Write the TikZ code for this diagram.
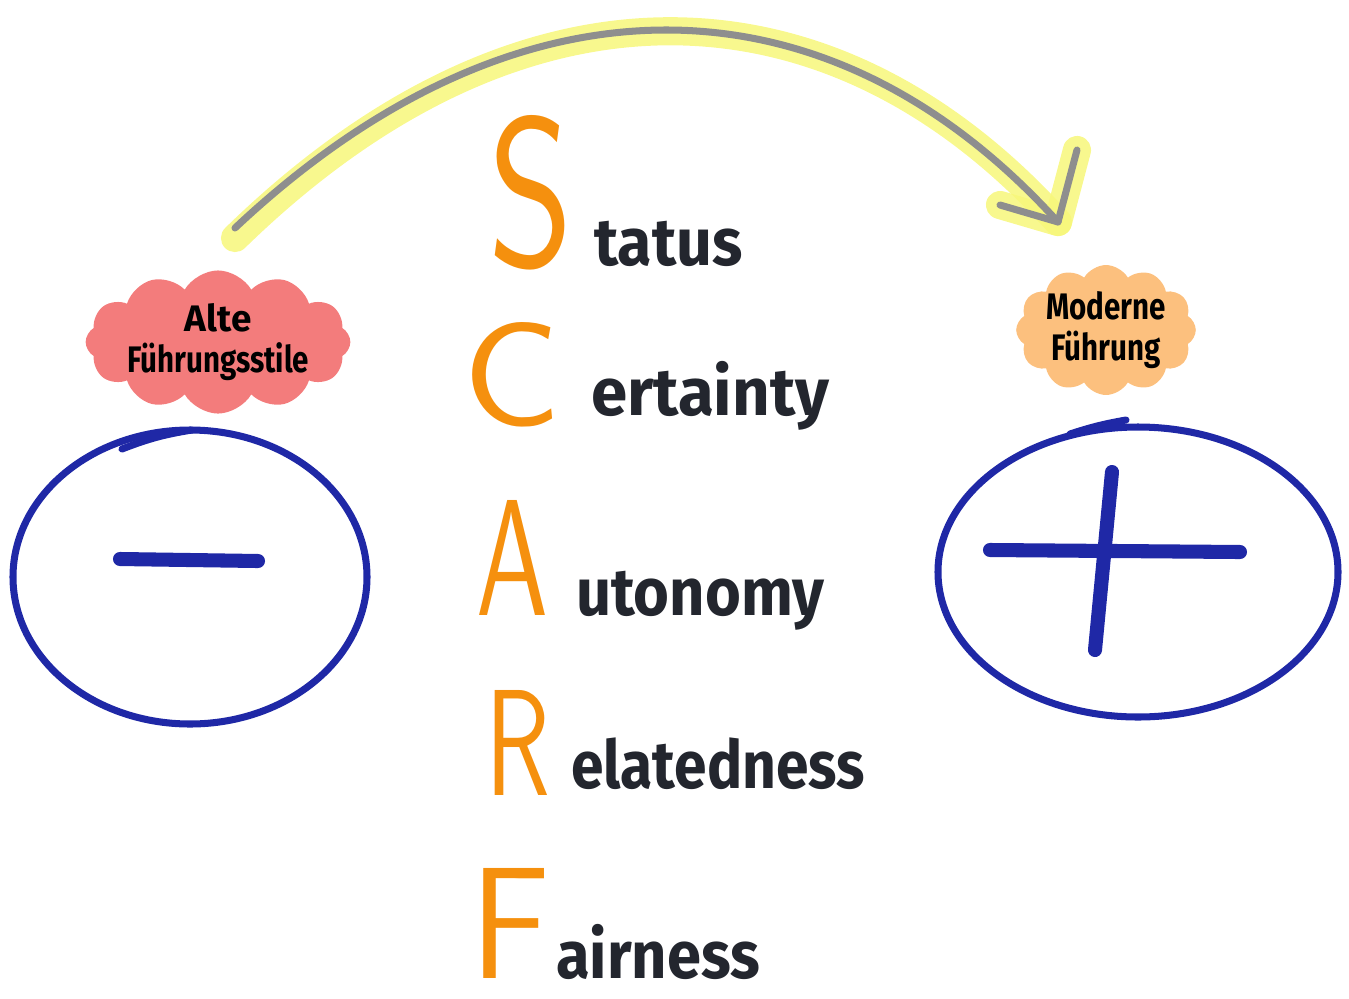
\documentclass[tikz,border=0pt]{standalone}
\usepackage{fontspec}
\setmainfont{Fira Sans}
\usepackage{graphicx}
\usetikzlibrary{positioning, shapes.geometric, shapes.symbols}
\definecolor{scarforange}{HTML}{F5900E}
\definecolor{inkdark}{HTML}{23262E}
\definecolor{penblue}{HTML}{1F28A6}
\definecolor{oldpink}{HTML}{F37C7C}
\definecolor{newpeach}{HTML}{FCC07E}
\definecolor{markeryellow}{HTML}{F7F77A}
\definecolor{pengray}{HTML}{8E8E8E}

\begin{document}
\begin{tikzpicture}[
    x=0.2mm, y=-0.2mm,
    bigletter/.style={inner sep=0pt, anchor=base west, text=scarforange, font=\sffamily},
    word/.style={inner sep=0pt, text=inkdark, font=\fontsize{38}{40}\selectfont\bfseries},
    bubble/.style={cloud, cloud puffs=12, cloud puff arc=120, cloud ignores aspect, draw=none, inner sep=0pt, align=center, text=black, font=\fontsize{21}{23}\selectfont\bfseries},
    ring/.style={ellipse, draw=penblue, line width=4pt, inner sep=0pt},
    sign/.style={draw=penblue, line width=8pt, line cap=round},
    marker/.style={draw=markeryellow, line width=16pt, line cap=round, line join=round, opacity=0.85},
    pen/.style={draw=pengray, line width=4pt, line cap=round, line join=round}
]
    \useasboundingbox (0,0) rectangle (1349,998);

    % SCARF column
    \node[bigletter] (bigS) at (488,265) {\resizebox{17mm}{30mm}{S}};
    \node[word, base right=4mm of bigS] (status) {\scalebox{0.94}[1]{tatus}};
    \node[bigletter] (bigC) at (462,425) {\resizebox{19.6mm}{20.6mm}{C}};
    \node[word, base right=6mm of bigC, yshift=2mm] (certainty) {\scalebox{0.98}[1]{ertainty}};
    \node[bigletter] (bigA) at (476,615) {\resizebox{14.4mm}{23mm}{A}};
    \node[word, base right=5.4mm of bigA] (autonomy) {\scalebox{0.92}[1]{utonomy}};
    \node[bigletter] (bigR) at (485,795) {\resizebox{13mm}{21mm}{R}};
    \node[word, base right=4mm of bigR, yshift=1.4mm] (relatedness) {\scalebox{0.88}[1]{elatedness}};
    \node[bigletter] (bigF) at (470,978) {\resizebox{16mm}{22mm}{F}};
    \node[word, base right=1mm of bigF] (fairness) {\scalebox{0.92}[1]{airness}};

    % clouds
    \node[bubble, fill=oldpink, minimum width=43mm, minimum height=22mm] (oldstyle) at (218,342) {Alte\\\scalebox{0.8}[1]{F\"uhrungsstile}};
    \node[bubble, fill=newpeach, minimum width=34mm, minimum height=20mm] (newstyle) at (1106,330) {\scalebox{0.8}[1]{Moderne}\\\scalebox{0.8}[1]{F\"uhrung}};

    % minus and plus
    \node[ring, minimum width=70.8mm, minimum height=58.8mm] (oldcircle) at (190,577) {};
    \draw[sign] ([shift={(-70,-18)}]oldcircle.center) -- ([shift={(68,-16)}]oldcircle.center);
    \draw[penblue, line width=4pt, line cap=round] ([shift={(-68,-128)}]oldcircle.center) to[bend left=6] ([shift={(2,-147)}]oldcircle.center);
    \node[ring, minimum width=80mm, minimum height=58mm] (newcircle) at (1138,572) {};
    \draw[sign] ([shift={(-148,-22)}]newcircle.center) -- ([shift={(102,-20)}]newcircle.center);
    \draw[sign] ([shift={(-26,-100)}]newcircle.center) -- ([shift={(-43,78)}]newcircle.center);
    \draw[penblue, line width=4pt, line cap=round] ([shift={(-68,-138)}]newcircle.center) to[bend left=4] ([shift={(-12,-152)}]newcircle.center);

    % arrow from old to new
    \coordinate (arrstart) at (235,228);
    \coordinate (arrtip) at (1058,222);
    \coordinate (barbup) at (1077,150);
    \coordinate (barbleft) at (1000,205);
    \path[marker] ([yshift=-2mm]arrstart) .. controls (520,-40) and (830,-30) .. (arrtip);
    \path[marker] (barbup) -- (arrtip) -- (barbleft);
    \path[pen] (arrstart) .. controls (520,-40) and (830,-30) .. (arrtip);
    \path[pen] (barbup) -- (arrtip) -- (barbleft);
\end{tikzpicture}
\end{document}
